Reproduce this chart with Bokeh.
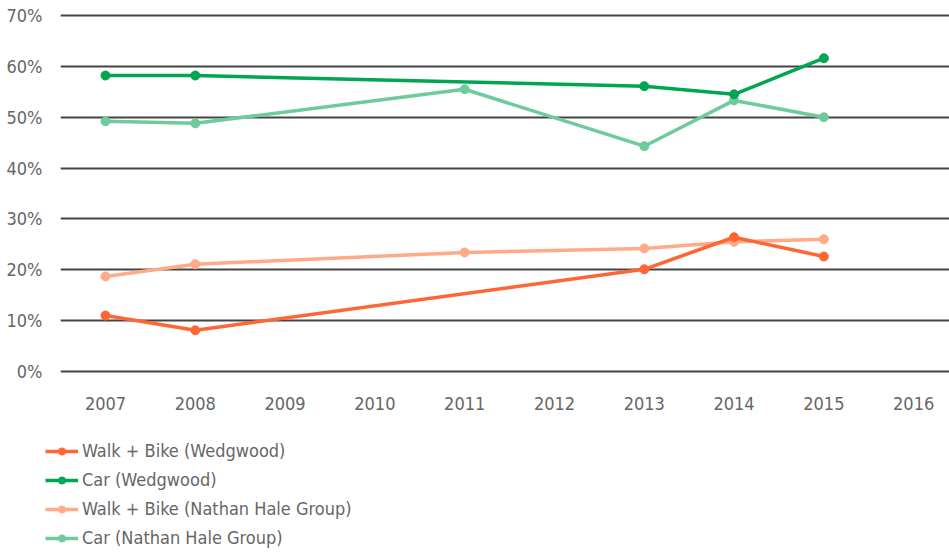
from bokeh.plotting import figure
from bokeh.layouts import column
from bokeh.models import FixedTicker, PrintfTickFormatter, Range1d, Legend, LegendItem
from bokeh.embed import file_html
from bokeh.resources import INLINE

# Data (percent)
years_tick = [2007, 2008, 2009, 2010, 2011, 2012, 2013, 2014, 2015, 2016]
y_ticks = [0, 10, 20, 30, 40, 50, 60, 70]

wb_wedg_x = [2007, 2008, 2013, 2014, 2015]
wb_wedg_y = [11.0, 8.1, 20.1, 26.4, 22.6]

car_wedg_x = [2007, 2008, 2013, 2014, 2015]
car_wedg_y = [58.2, 58.2, 56.1, 54.5, 61.6]

wb_nh_x = [2007, 2008, 2011, 2013, 2014, 2015]
wb_nh_y = [18.7, 21.1, 23.4, 24.2, 25.5, 26.0]

car_nh_x = [2007, 2008, 2011, 2013, 2014, 2015]
car_nh_y = [49.2, 48.8, 55.5, 44.3, 53.3, 50.0]

labels = ["Walk + Bike (Wedgwood)", "Car (Wedgwood)",
          "Walk + Bike (Nathan Hale Group)", "Car (Nathan Hale Group)"]
colors = ["#FF6633", "#00A651", "#FFAA88", "#6DCB9C"]

FONT = "DejaVu Sans Condensed"
TEXT = "#666666"

series = [(wb_wedg_x, wb_wedg_y), (car_wedg_x, car_wedg_y),
          (wb_nh_x, wb_nh_y), (car_nh_x, car_nh_y)]
order = [2, 3, 0, 1]

# ---- main chart ----
p = figure(width=949, height=421, output_backend="svg", toolbar_location=None,
           x_range=Range1d(2006.499, 2016.399), y_range=Range1d(-0.787, 70.59),
           min_border_left=60, min_border_right=0, min_border_top=12, min_border_bottom=46)
p.outline_line_color = None
p.xgrid.grid_line_color = None
p.ygrid.grid_line_color = "#444444"
p.ygrid.grid_line_width = 2
p.ygrid.ticker = FixedTicker(ticks=y_ticks)

p.yaxis.ticker = FixedTicker(ticks=y_ticks)
p.yaxis.formatter = PrintfTickFormatter(format="%d%%")
p.xaxis.ticker = FixedTicker(ticks=years_tick)
for ax in (p.xaxis, p.yaxis):
    ax.axis_line_color = None
    ax.major_tick_line_color = None
    ax.minor_tick_line_color = None
    ax.major_tick_out = 0
    ax.major_tick_in = 0
    ax.minor_tick_out = 0
    ax.major_label_text_font = FONT
    ax.major_label_text_font_size = "18px"
    ax.major_label_text_color = TEXT
p.yaxis.major_label_standoff = 18
p.xaxis.major_label_standoff = 21

for i in order:
    xs, ys = series[i]
    p.line(xs, ys, line_color=colors[i], line_width=3.5)
    p.scatter(xs, ys, marker="circle", size=9, fill_color=colors[i], line_color=colors[i])

# ---- legend strip below the chart ----
q = figure(width=949, height=131, output_backend="svg", toolbar_location=None,
           x_axis_location=None, y_axis_location=None,
           min_border_left=0, min_border_right=0, min_border_top=0, min_border_bottom=0)
q.outline_line_color = None
q.grid.grid_line_color = None

legend_x = 0
try:
    q.frame_align = False
    legend_x = 45
except Exception:
    legend_x = 0

rends = {}
for i in range(4):
    xs, ys = series[i]
    l = q.line(xs, ys, line_color=colors[i], line_width=3.5, visible=False)
    s = q.scatter(xs, ys, marker="circle", size=9, fill_color=colors[i],
                  line_color=colors[i], visible=False)
    rends[i] = [l, s]
items = [LegendItem(label=labels[i], renderers=rends[i]) for i in range(4)]
legend = Legend(items=items, location=(legend_x, 4), orientation="vertical",
                padding=0, margin=0, spacing=8,
                glyph_width=33, glyph_height=18, label_height=18, label_standoff=4,
                label_text_font=FONT, label_text_font_size="18px", label_text_color=TEXT,
                border_line_color=None, background_fill_alpha=0)
q.add_layout(legend, "center")

layout = column(p, q, spacing=0)
open("out.html", "w").write(file_html(layout, INLINE))
